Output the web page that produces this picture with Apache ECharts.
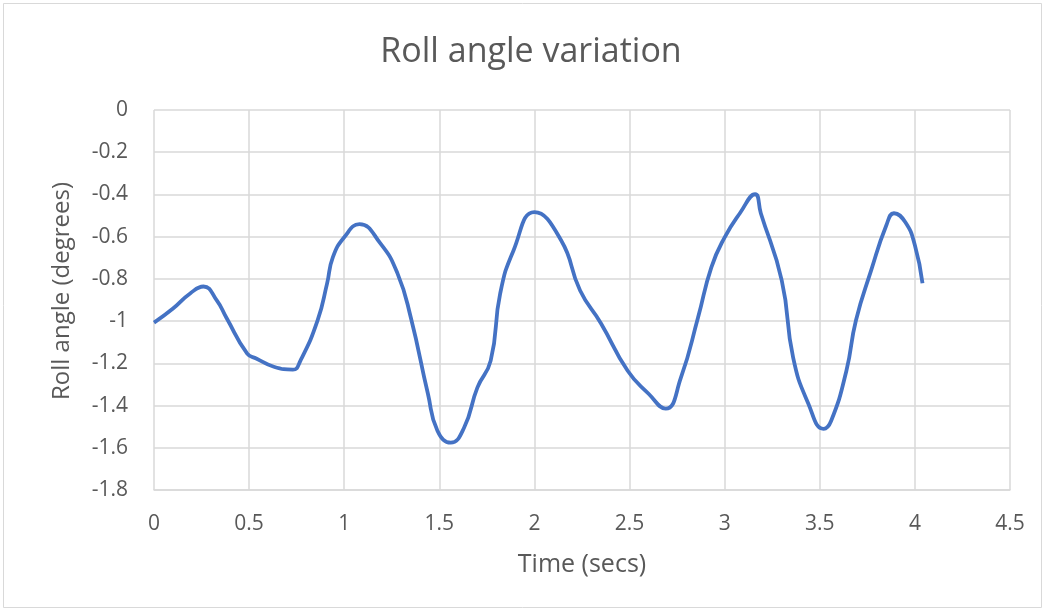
<!DOCTYPE html>
<html>
<head>
<meta charset="utf-8">
<title>Roll angle variation</title>
<script src="https://cdn.jsdelivr.net/npm/echarts@6/dist/echarts.min.js"></script>
<style>
  html, body { margin: 0; padding: 0; background: #ffffff; }
  #chart { width: 1047px; height: 613px; }
</style>
</head>
<body>
<div id="chart"></div>
<script>
// Time samples (seconds) and roll angle (degrees)
const times = [
  0.00, 0.10, 0.19, 0.26, 0.33, 0.38, 0.49, 0.54, 0.63, 0.73,
  0.77, 0.86, 0.91, 0.94, 1.00, 1.08, 1.19, 1.28, 1.35, 1.44,
  1.49, 1.56, 1.63, 1.70, 1.77, 1.82, 1.89, 2.00, 2.14, 2.24,
  2.35, 2.49, 2.60, 2.69, 2.77, 2.86, 2.93, 3.00, 3.08, 3.16,
  3.19, 3.30, 3.36, 3.44, 3.52, 3.56, 3.64, 3.69, 3.77, 3.85,
  3.89, 3.95, 4.00, 4.04
];
const rolls = [
  -1.007, -0.940, -0.869, -0.836, -0.902, -0.983, -1.154, -1.178, -1.216, -1.230,
  -1.187, -0.997, -0.821, -0.698, -0.603, -0.541, -0.632, -0.774, -0.983, -1.344,
  -1.519, -1.576, -1.505, -1.315, -1.187, -0.869, -0.665, -0.484, -0.617, -0.855,
  -1.011, -1.235, -1.344, -1.415, -1.268, -0.983, -0.745, -0.603, -0.489, -0.399,
  -0.489, -0.807, -1.173, -1.391, -1.510, -1.472, -1.235, -0.997, -0.760, -0.546,
  -0.489, -0.532, -0.641, -0.821
];

// Axis ranges and tick steps
const xRange = { min: 0, max: 4.5, step: 0.5 };
const yRange = { min: -1.8, max: 0, step: 0.2 };

const chartTitle = 'Roll angle variation';
const xName = 'Time (secs)';
const yName = 'Roll angle (degrees)';

const series = times.map((t, i) => [t, rolls[i]]);

const textColor = '#595959';
const gridColor = '#d9d9d9';
const fontFamily = '"Open Sans", "Liberation Sans", sans-serif';

const chart = echarts.init(document.getElementById('chart'), null, { renderer: 'canvas' });

chart.setOption({
  backgroundColor: '#ffffff',
  animation: false,
  title: {
    text: chartTitle,
    left: 531,
    top: 35,
    textAlign: 'center',
    padding: 0,
    textStyle: { color: textColor, fontFamily, fontSize: 34, fontWeight: 'normal' }
  },
  graphic: [{
    type: 'rect',
    shape: { x: 3.5, y: 3.5, width: 1038, height: 604 },
    style: { fill: 'none', stroke: '#d9d9d9', lineWidth: 1 },
    silent: true
  }],
  grid: { left: 154, right: 37, top: 110, bottom: 123, containLabel: false },
  xAxis: {
    type: 'value',
    min: xRange.min,
    max: xRange.max,
    interval: xRange.step,
    name: xName,
    nameLocation: 'middle',
    nameGap: 62,
    nameTextStyle: { color: textColor, fontFamily, fontSize: 25 },
    axisLine: { show: true, onZero: false, lineStyle: { color: gridColor, width: 1.5 } },
    axisTick: { show: false },
    axisLabel: { color: textColor, fontFamily, fontSize: 21, margin: 24 },
    splitLine: { show: true, lineStyle: { color: gridColor, width: 1.5 } }
  },
  yAxis: {
    type: 'value',
    min: yRange.min,
    max: yRange.max,
    interval: yRange.step,
    name: yName,
    nameLocation: 'middle',
    nameGap: 80,
    nameRotate: 90,
    nameTextStyle: { color: textColor, fontFamily, fontSize: 24, padding: [0, 0, 0, 18] },
    axisLine: { show: false },
    axisTick: { show: false },
    axisLabel: {
      color: textColor, fontFamily, fontSize: 21, margin: 26,
      formatter: v => String(Math.round(v * 10) / 10)
    },
    splitLine: { show: true, lineStyle: { color: gridColor, width: 1.5 } }
  },
  series: [{
    type: 'line',
    data: series,
    smooth: 0.5,
    showSymbol: false,
    lineStyle: { color: '#4472C4', width: 3.8 },
    itemStyle: { color: '#4472C4' }
  }]
});
</script>
</body>
</html>
